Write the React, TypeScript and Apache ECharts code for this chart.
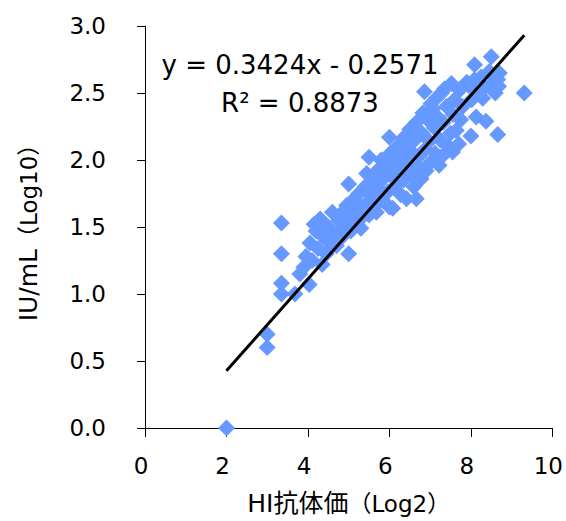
import React, { useEffect, useRef } from "react";
import * as echarts from "echarts";

// HI antibody titer (Log2) — x values
const hiLog2 = [
  2.0, 3.0, 3.0, 3.35, 3.35, 3.35, 3.35, 3.68, 3.9, 4.03,
  3.95, 4.05, 4.1, 4.2, 4.25, 4.3, 4.35, 4.4, 4.45, 4.5,
  4.55, 4.6, 4.62, 4.7, 4.75, 4.8, 4.85, 4.88, 4.95, 4.95,
  5.0, 5.0, 5.02, 5.05, 5.1, 5.15, 5.2, 5.25, 5.27, 5.3,
  5.35, 5.4, 5.44, 5.45, 5.5, 5.5, 5.55, 5.6, 5.65, 5.68,
  5.7, 5.75, 5.8, 5.82, 5.85, 5.9, 5.95, 6.0, 6.0, 6.02,
  6.05, 6.08, 6.1, 6.15, 6.2, 6.25, 6.28, 6.3, 6.33, 6.35,
  6.4, 6.42, 6.45, 6.5, 6.52, 6.55, 6.6, 6.62, 6.66, 6.66,
  6.7, 6.74, 6.78, 6.8, 6.82, 6.86, 6.88, 6.9, 6.94, 6.98,
  7.0, 7.02, 7.06, 7.1, 7.12, 7.15, 7.18, 7.22, 7.25, 7.28,
  7.3, 7.32, 7.35, 7.4, 7.45, 7.5, 7.52, 7.55, 7.56, 7.6,
  7.64, 7.7, 7.72, 7.75, 7.8, 7.9, 7.97, 8.0, 8.02, 8.09,
  8.09, 8.13, 8.2, 8.25, 8.29, 8.33, 8.37, 8.45, 8.5, 8.55,
  8.6, 8.66, 8.66, 8.7, 8.68, 9.31, 3.8, 4.15
];

// IU/mL (Log10) — y values
const iuLog10 = [
  0.0, 0.7, 0.6, 1.53, 1.3, 1.08, 1.0, 1.0, 1.2, 1.07,
  1.28, 1.38, 1.25, 1.47, 1.34, 1.56, 1.22, 1.42, 1.3, 1.5,
  1.38, 1.61, 1.45, 1.36, 1.55, 1.48, 1.43, 1.62, 1.66, 1.53,
  1.3, 1.82, 1.58, 1.47, 1.7, 1.62, 1.52, 1.75, 1.66, 1.49,
  1.58, 1.8, 1.9, 1.68, 2.02, 1.59, 1.74, 1.85, 1.66, 1.61,
  1.92, 1.78, 2.0, 1.7, 1.86, 1.95, 1.76, 2.17, 1.65, 2.05,
  1.88, 1.64, 1.98, 1.81, 2.1, 2.03, 1.74, 1.92, 2.16, 1.85,
  2.1, 1.71, 1.98, 2.23, 1.9, 2.06, 1.8, 2.15, 1.71, 2.28,
  1.95, 2.03, 1.86, 2.2, 2.35, 2.51, 2.08, 1.92, 2.3, 2.14,
  1.98, 2.42, 2.38, 2.24, 2.05, 2.46, 2.32, 1.96, 2.15, 2.5,
  2.03, 2.28, 2.53, 2.4, 2.1, 2.2, 2.57, 2.06, 2.34, 2.45,
  2.22, 2.12, 2.52, 2.3, 2.4, 2.58, 2.55, 2.18, 2.45, 2.71,
  2.6, 2.32, 2.5, 2.62, 2.46, 2.54, 2.29, 2.66, 2.77, 2.58,
  2.5, 2.19, 2.6, 2.65, 2.55, 2.5, 1.15, 1.52
];

const slope = 0.3424;
const intercept = -0.2571;
const rSquared = 0.8873;

const xAxisRange = [0, 10];
const xInterval = 2;
const yAxisRange = [0, 3];
const yInterval = 0.5;

const FONT = '"DejaVu Sans", Verdana, "Noto Sans CJK JP", sans-serif';

export default function App() {
  const ref = useRef<HTMLDivElement>(null);
  useEffect(() => {
    const chart = echarts.init(ref.current!, null, { renderer: "svg" });
    const points = hiLog2.map((x, i) => [x, iuLog10[i]]);
    const xMin = Math.min(...hiLog2);
    const xMax = Math.max(...hiLog2);
    const trend = [
      [xMin, slope * xMin + intercept],
      [xMax, slope * xMax + intercept],
    ];
    const sign = intercept < 0 ? "-" : "+";
    chart.setOption({
      animation: false,
      backgroundColor: "#ffffff",
      textStyle: { fontFamily: FONT },
      grid: { left: 145, right: 13, top: 26, bottom: 90, containLabel: false },
      xAxis: {
        type: "value",
        min: xAxisRange[0],
        max: xAxisRange[1],
        interval: xInterval,
        name: "{a|HI抗体価}{b|（Log2）}",
        nameLocation: "middle",
        nameGap: 63,
        nameTextStyle: {
          rich: {
            a: { fontSize: 25, color: "#000", fontFamily: FONT },
            b: { fontSize: 23, color: "#000", fontFamily: FONT },
          },
        },
        axisLine: { show: true, onZero: false, lineStyle: { color: "#000", width: 1 } },
        axisTick: { show: true, inside: false, length: 9, lineStyle: { color: "#000", width: 1 } },
        axisLabel: {
          fontSize: 23,
          color: "#000",
          margin: 27,
          fontFamily: FONT,
          padding: [0, 8, 0, 0],
        },
        splitLine: { show: false },
      },
      yAxis: {
        type: "value",
        min: yAxisRange[0],
        max: yAxisRange[1],
        interval: yInterval,
        name: "{a|IU/mL}{b|（Log10）}",
        nameLocation: "middle",
        nameGap: 104,
        nameRotate: 90,
        nameTextStyle: {
          rich: {
            a: { fontSize: 25, color: "#000", fontFamily: FONT },
            b: { fontSize: 23, color: "#000", fontFamily: FONT },
          },
        },
        axisLine: { show: true, onZero: false, lineStyle: { color: "#000", width: 1 } },
        axisTick: { show: true, inside: false, length: 8, lineStyle: { color: "#000", width: 1 } },
        axisLabel: {
          fontSize: 23,
          color: "#000",
          margin: 39,
          fontFamily: FONT,
          formatter: (v: number) => v.toFixed(1),
        },
        splitLine: { show: false },
      },
      graphic: [
        {
          type: "text",
          x: 300,
          y: 65,
          style: {
            text: `y = ${slope.toFixed(4)}x ${sign} ${Math.abs(intercept).toFixed(4)}`,
            fontSize: 26,
            fontFamily: FONT,
            fill: "#000",
            textAlign: "center",
            textVerticalAlign: "middle",
          },
          z: 100,
        },
        {
          type: "text",
          x: 300,
          y: 103,
          style: {
            text: `R² = ${rSquared.toFixed(4)}`,
            fontSize: 26,
            fontFamily: FONT,
            fill: "#000",
            textAlign: "center",
            textVerticalAlign: "middle",
          },
          z: 100,
        },
      ],
      series: [
        {
          type: "scatter",
          data: points,
          symbol: "diamond",
          symbolSize: 17,
          itemStyle: { color: "#6699FF", opacity: 1 },
          z: 2,
        },
        {
          type: "line",
          data: trend,
          showSymbol: false,
          symbol: "none",
          lineStyle: { color: "#000", width: 3 },
          z: 3,
        },
      ],
    });
    return () => chart.dispose();
  }, []);
  return (
    <div
      ref={ref}
      style={{ position: "fixed", left: 0, top: 0, width: 566, height: 521, background: "#fff" }}
    />
  );
}
